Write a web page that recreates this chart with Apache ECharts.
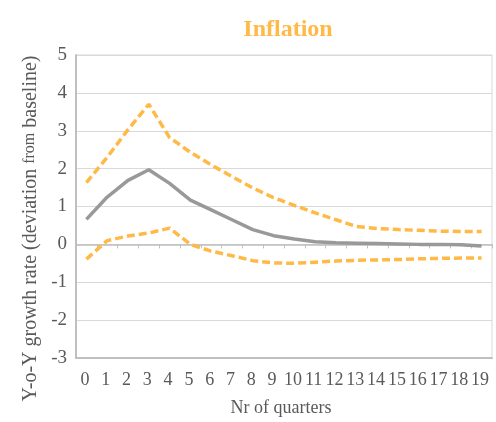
<!DOCTYPE html>
<html>
<head>
<meta charset="utf-8">
<script src="https://cdn.jsdelivr.net/npm/echarts@6/dist/echarts.min.js"></script>
<style>html,body{margin:0;padding:0;background:#fff;}#c{width:496px;height:422px;}</style>
</head>
<body>
<div id="c"></div>
<script>
var quarters = ['0','1','2','3','4','5','6','7','8','9','10','11','12','13','14','15','16','17','18','19'];
var central = [0.66, 1.25, 1.69, 1.97, 1.61, 1.17, 0.91, 0.65, 0.39, 0.23, 0.14, 0.07, 0.04, 0.03, 0.02, 0.01, 0.0, 0.0, -0.01, -0.04];
var upper = [1.63, 2.30, 3.03, 3.70, 2.82, 2.43, 2.10, 1.79, 1.49, 1.23, 1.03, 0.83, 0.65, 0.47, 0.42, 0.39, 0.37, 0.35, 0.34, 0.34];
var lower = [-0.39, 0.10, 0.22, 0.30, 0.43, 0.0, -0.18, -0.30, -0.43, -0.49, -0.50, -0.47, -0.44, -0.42, -0.41, -0.40, -0.38, -0.37, -0.36, -0.36];
var yTicks = {min: -3, max: 5, interval: 1};

var orange = '#FFB946';
var grey = '#999999';
var font = '"Liberation Serif", "DejaVu Serif", serif';

var chart = echarts.init(document.getElementById('c'), null, {renderer: 'canvas'});
chart.setOption({
  animation: false,
  backgroundColor: '#fff',
  title: {
    text: 'Inflation',
    left: 283, top: 13, textAlign: 'center',
    textStyle: {color: orange, fontFamily: font, fontSize: 24, fontWeight: 'bold'}
  },
  grid: {left: 76, right: 4, top: 55, bottom: 59, show: true, borderColor: '#d9d9d9', borderWidth: 1},
  xAxis: [{
    type: 'category', data: quarters, position: 'bottom', boundaryGap: true,
    axisLine: {onZero: true, lineStyle: {color: '#bfbfbf', width: 1.5}},
    axisTick: {show: true, inside: false, length: 4, interval: 0, lineStyle: {color: '#bfbfbf'}},
    axisLabel: {show: false}, splitLine: {show: false}
  }, {
    type: 'category', data: quarters, position: 'bottom', boundaryGap: true,
    axisLine: {onZero: false, show: true, lineStyle: {color: '#bfbfbf', width: 2}},
    axisTick: {show: false},
    axisLabel: {show: true, interval: 0, hideOverlap: false, color: '#595959', fontFamily: font, fontSize: 18, margin: 13, padding: [0, 3, 0, 0]},
    name: 'Nr of quarters', nameLocation: 'middle', nameGap: 41,
    nameTextStyle: {color: '#595959', fontFamily: font, fontSize: 18, padding: [0, 0, 0, -6]}
  }],
  yAxis: {
    type: 'value', min: yTicks.min, max: yTicks.max, interval: yTicks.interval,
    axisLine: {show: true, lineStyle: {color: '#bfbfbf', width: 2}},
    axisTick: {show: false},
    axisLabel: {color: '#595959', fontFamily: font, fontSize: 19, margin: 9},
    splitLine: {show: true, lineStyle: {color: '#d9d9d9', width: 1}},
    name: '{a|Y-o-Y growth rate (deviation }{b|from}{a| baseline)}',
    nameLocation: 'middle', nameGap: 31, nameRotate: 90,
    nameTextStyle: {
      rich: {
        a: {color: '#595959', fontFamily: font, fontSize: 20},
        b: {color: '#595959', fontFamily: font, fontSize: 16}
      },
      padding: [0, 44, 0, 0]
    }
  },
  series: [{
    name: 'Upper', type: 'line', data: upper, xAxisIndex: 0, showSymbol: false, symbol: 'none',
    lineStyle: {color: orange, width: 3.5, type: [8, 4], cap: 'butt'}
  }, {
    name: 'Central', type: 'line', data: central, xAxisIndex: 0, showSymbol: false, symbol: 'none',
    lineStyle: {color: grey, width: 3.5}
  }, {
    name: 'Lower', type: 'line', data: lower, xAxisIndex: 0, showSymbol: false, symbol: 'none',
    lineStyle: {color: orange, width: 3.5, type: [8, 4], cap: 'butt'}
  }]
});
</script>
</body>
</html>
